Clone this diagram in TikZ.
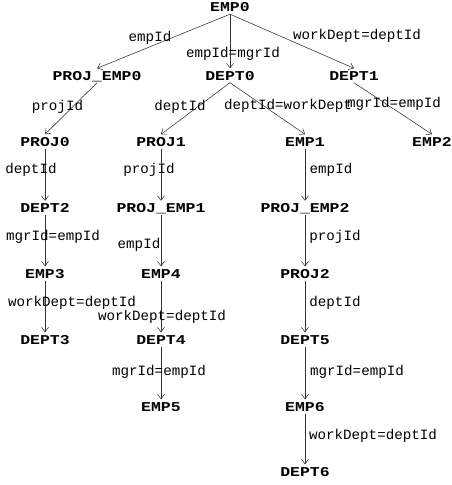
\documentclass[tikz,border=0pt]{standalone}
\usepackage{fontspec}
\usetikzlibrary{arrows.meta}
\newfontfamily\nodefont[FakeStretch=1.22]{Liberation Mono}
\newfontfamily\labfont{Liberation Mono}
\tikzset{
  tn/.style={font=\nodefont\fontsize{13.5}{14}\selectfont\bfseries, inner sep=0pt, minimum height=14pt, text height=9pt, text depth=0pt},
  lab/.style={font=\labfont\fontsize{14.2}{15}\selectfont, inner sep=0pt, text height=9pt, text depth=0pt},
  conn/.style={draw=black!80, line width=0.55pt, -{Straight Barb[length=4.5pt,width=7pt]}}
}
\begin{document}
\begin{tikzpicture}[x=1pt,y=-1pt]
\useasboundingbox (0,0) rectangle (452,485);
% nodes
\node[tn] (e0)  at (230,7) {EMP0};
\node[tn] (pe0) at (97,75.5) {PROJ\_EMP0};
\node[tn] (d0)  at (230,75.5) {DEPT0};
\node[tn] (d1)  at (354,75.5) {DEPT1};
\node[tn] (p0)  at (45,141.5) {PROJ0};
\node[tn] (p1)  at (161,141.5) {PROJ1};
\node[tn] (e1)  at (305,141.5) {EMP1};
\node[tn] (e2)  at (432,141.5) {EMP2};
\node[tn] (d2)  at (45,208) {DEPT2};
\node[tn] (pe1) at (161,208) {PROJ\_EMP1};
\node[tn] (pe2) at (305,208) {PROJ\_EMP2};
\node[tn] (e3)  at (45,273.5) {EMP3};
\node[tn] (e4)  at (161,273.5) {EMP4};
\node[tn] (p2)  at (305,273.5) {PROJ2};
\node[tn] (d3)  at (45,339.5) {DEPT3};
\node[tn] (d4)  at (161,339.5) {DEPT4};
\node[tn] (d5)  at (305,339.5) {DEPT5};
\node[tn] (e5)  at (161,406.5) {EMP5};
\node[tn] (e6)  at (305,406.5) {EMP6};
\node[tn] (d6)  at (305,471.5) {DEPT6};
% connectors
\draw[conn] (e0.south) -- (pe0.north);
\draw[conn] (e0.south) -- (d0.north);
\draw[conn] (e0.south) -- (d1.north);
\draw[conn] (pe0.south) -- (p0.north);
\draw[conn] (d0.south) -- (p1.north);
\draw[conn] (d0.south) -- (e1.north);
\draw[conn] (d1.south) -- (e2.north);
\draw[conn] (p0.south) -- (d2.north);
\draw[conn] (p1.south) -- (pe1.north);
\draw[conn] (e1.south) -- (pe2.north);
\draw[conn] (d2.south) -- (e3.north);
\draw[conn] (pe1.south) -- (e4.north);
\draw[conn] (pe2.south) -- (p2.north);
\draw[conn] (e3.south) -- (d3.north);
\draw[conn] (e4.south) -- (d4.north);
\draw[conn] (p2.south) -- (d5.north);
\draw[conn] (d4.south) -- (e5.north);
\draw[conn] (d5.south) -- (e6.north);
\draw[conn] (e6.south) -- (d6.north);
% labels
\node[lab] (l1)  at (150,37) {empId};
\node[lab] (l2)  at (233,52.5) {empId=mgrId};
\node[lab] (l3)  at (357,35) {workDept=deptId};
\node[lab] (l4)  at (57.5,106) {projId};
\node[lab] (l5)  at (180,106) {deptId};
\node[lab] (l6)  at (288,105) {deptId=workDept};
\node[lab] (l7)  at (394,103) {mgrId=empId};
\node[lab] (l8)  at (31,169) {deptId};
\node[lab] (l9)  at (149,169) {projId};
\node[lab] (l10) at (331,169) {empId};
\node[lab] (l11) at (53,236) {mgrId=empId};
\node[lab] (l12) at (139,244) {empId};
\node[lab] (l13) at (335,236) {projId};
\node[lab] (l14) at (72,302) {workDept=deptId};
\node[lab] (l15) at (162,316) {workDept=deptId};
\node[lab] (l16) at (335,302) {deptId};
\node[lab] (l17) at (159,371) {mgrId=empId};
\node[lab] (l18) at (357,371) {mgrId=empId};
\node[lab] (l19) at (373,435) {workDept=deptId};
\end{tikzpicture}
\end{document}
